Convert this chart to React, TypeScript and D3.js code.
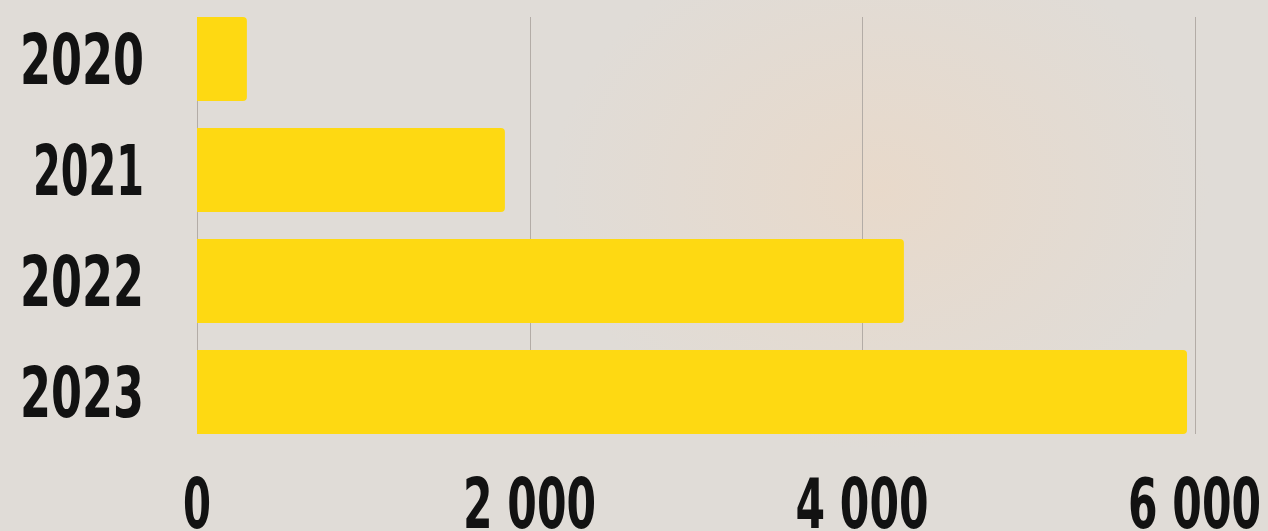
import React, { useEffect, useRef } from "react";
import * as d3 from "d3";

const years = ["2020", "2021", "2022", "2023"];
const values = [300, 1852, 4252, 5955];
const ticks = [0, 2000, 4000, 6000];

const W = 1268;
const H = 531;

const App = () => {
  const svgRef = useRef<SVGSVGElement>(null);

  useEffect(() => {
    if (!svgRef.current) return;
    const svg = d3.select(svgRef.current);
    svg.selectAll("*").remove();

    // background with a faint warm blob, like the photo behind the original
    const defs = svg.append("defs");
    const grad = defs
      .append("radialGradient")
      .attr("id", "blob")
      .attr("cx", "0.5")
      .attr("cy", "0.5")
      .attr("r", "0.5");
    grad.append("stop").attr("offset", "0%").attr("stop-color", "#e9d9c9").attr("stop-opacity", 0.9);
    grad.append("stop").attr("offset", "100%").attr("stop-color", "#e9d9c9").attr("stop-opacity", 0);

    svg.append("rect").attr("width", W).attr("height", H).attr("fill", "#e0dcd7");
    svg
      .append("ellipse")
      .attr("cx", 880)
      .attr("cy", 190)
      .attr("rx", 330)
      .attr("ry", 260)
      .attr("fill", "url(#blob)");

    const x = d3.scaleLinear().domain([0, 6000]).range([197, 1194.5]);
    const y = d3.scaleBand().domain(years).range([17, 434]).paddingInner(0.243).paddingOuter(0);

    // gridlines
    svg
      .append("g")
      .selectAll("line")
      .data(ticks)
      .enter()
      .append("line")
      .attr("x1", (d) => Math.round(x(d)) + 0.5)
      .attr("x2", (d) => Math.round(x(d)) + 0.5)
      .attr("y1", 17)
      .attr("y2", 434)
      .attr("stroke", "#b3aca6")
      .attr("stroke-width", 1);

    // bars, rounded on the right only
    const r = 4;
    svg
      .append("g")
      .selectAll("path")
      .data(years)
      .enter()
      .append("path")
      .attr("fill", "#fed912")
      .attr("d", (d, i) => {
        const x0 = x(0);
        const x1 = x(values[i]);
        const y0 = y(d)!;
        const y1 = y0 + y.bandwidth();
        return `M${x0},${y0}H${x1 - r}Q${x1},${y0} ${x1},${y0 + r}V${y1 - r}Q${x1},${y1} ${x1 - r},${y1}H${x0}Z`;
      });

    const font = "'DejaVu Sans Condensed', 'DejaVu Sans', sans-serif";

    // year labels ("1" is a narrow glyph in the original face)
    svg
      .append("g")
      .selectAll("text")
      .data(years)
      .enter()
      .append("text")
      .attr("x", 144)
      .attr("y", (d) => y(d)! + y.bandwidth() / 2)
      .attr("dy", "0.36em")
      .attr("text-anchor", "end")
      .attr("textLength", (d) => (d.endsWith("1") ? 111 : 124))
      .attr("lengthAdjust", "spacingAndGlyphs")
      .style("font-family", font)
      .style("font-weight", "bold")
      .style("font-size", "70px")
      .attr("fill", "#121212")
      .text((d) => d);

    // x tick labels
    svg
      .append("g")
      .selectAll("text")
      .data(ticks)
      .enter()
      .append("text")
      .attr("x", (d) => x(d))
      .attr("y", 528)
      .attr("text-anchor", "middle")
      .attr("textLength", (d) => (d === 0 ? 28 : 133))
      .attr("lengthAdjust", "spacingAndGlyphs")
      .style("font-family", font)
      .style("font-weight", "bold")
      .style("font-size", "70px")
      .attr("fill", "#121212")
      .text((d) => (d === 0 ? "0" : d3.format(",")(d).replace(",", " ")));
  }, []);

  return (
    <svg
      ref={svgRef}
      width={W}
      height={H}
      style={{ position: "absolute", left: 0, top: 0, display: "block" }}
    />
  );
};

export default App;
